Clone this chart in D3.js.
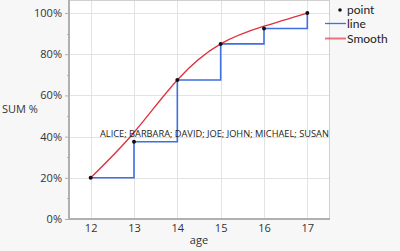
<!DOCTYPE html>
<html>
<head>
<meta charset="utf-8">
<script src="https://cdn.jsdelivr.net/npm/d3@7"></script>
<style>
  html, body { margin: 0; padding: 0; background: #f7f7f7; }
  svg { display: block; font-family: "Open Sans", "Noto Sans", sans-serif; }
</style>
</head>
<body>
<svg id="chart" width="400" height="251"></svg>
<script>
const ages = [12, 13, 14, 15, 16, 17];
const sumPct = [20, 37.5, 67.5, 85, 92.5, 100];
const smoothPct = [20, 42, 67.5, 85, 93.6, 100];
const yTicks = [0, 20, 40, 60, 80, 100];
const yMinorTicks = [10, 30, 50, 70, 90];
const labelText = "ALICE; BARBARA; DAVID; JOE; JOHN; MICHAEL; SUSAN";
const legendItems = ["point", "line", "Smooth"];

const svg = d3.select("#chart");
const plot = { left: 69, right: 329, top: 0, bottom: 219 };

const x = d3.scaleLinear().domain([11.5, 17.5]).range([plot.left, plot.right]);
const y = d3.scaleLinear().domain([0, 100]).range([plot.bottom, 13]);

// plot background
svg.append("rect")
  .attr("x", plot.left).attr("y", plot.top)
  .attr("width", plot.right - plot.left).attr("height", plot.bottom - plot.top)
  .attr("fill", "#ffffff");

// grid
const grid = svg.append("g");
grid.selectAll("line.h").data(yTicks).join("line")
  .attr("x1", plot.left).attr("x2", plot.right)
  .attr("y1", d => Math.round(y(d)) + 0.5).attr("y2", d => Math.round(y(d)) + 0.5)
  .attr("stroke", "#e3e3e3");
grid.selectAll("line.v").data(ages).join("line")
  .attr("y1", plot.top).attr("y2", plot.bottom)
  .attr("x1", d => Math.round(x(d)) + 0.5).attr("x2", d => Math.round(x(d)) + 0.5)
  .attr("stroke", "#e3e3e3");

// frame (right/top)
svg.append("line").attr("x1", plot.right + 0.5).attr("x2", plot.right + 0.5)
  .attr("y1", plot.top).attr("y2", plot.bottom).attr("stroke", "#d0d0d0");
svg.append("line").attr("x1", plot.left).attr("x2", plot.right)
  .attr("y1", 0.5).attr("y2", 0.5).attr("stroke", "#d0d0d0");

// y axis
const yAxis = svg.append("g").attr("transform", `translate(${plot.left},0)`)
  .call(d3.axisLeft(y).tickValues(yTicks).tickFormat(d => d + "%").tickSize(4).tickPadding(3));
yAxis.append("g").selectAll("line").data(yMinorTicks).join("line")
  .attr("x1", -2).attr("x2", 0)
  .attr("y1", d => Math.round(y(d)) + 0.5).attr("y2", d => Math.round(y(d)) + 0.5)
  .attr("stroke", "#b0b0b0");
yAxis.select(".domain").attr("stroke", "#b0b0b0").attr("stroke-width", 2)
  .attr("d", `M0,${plot.top}V${plot.bottom}`);
yAxis.selectAll(".tick line").attr("stroke", "#b0b0b0");
yAxis.selectAll(".tick text").attr("font-size", 11).attr("fill", "#333")
  .attr("font-family", "'Open Sans', sans-serif");

// x axis
const xAxis = svg.append("g").attr("transform", `translate(0,${plot.bottom})`)
  .call(d3.axisBottom(x).tickValues(ages).tickFormat(d3.format("d")).tickSize(0).tickPadding(5));
xAxis.select(".domain").attr("stroke", "#b0b0b0").attr("stroke-width", 2)
  .attr("d", `M${plot.left},0H${plot.right + 1}`);
xAxis.selectAll(".tick text").attr("font-size", 11).attr("fill", "#333")
  .attr("font-family", "'Open Sans', sans-serif");

// axis titles
svg.append("text").attr("x", 2).attr("y", 113).attr("font-size", 11).attr("fill", "#333")
  .text("SUM %");
svg.append("text").attr("x", (plot.left + plot.right) / 2).attr("y", 244)
  .attr("text-anchor", "middle").attr("font-size", 11).attr("fill", "#333").text("age");

const data = ages.map((a, i) => ({ a, p: sumPct[i], s: smoothPct[i] }));

// step line
svg.append("path").datum(data)
  .attr("d", d3.line().x(d => x(d.a)).y(d => y(d.p)).curve(d3.curveStepAfter))
  .attr("fill", "none").attr("stroke", "#3f6fe0").attr("stroke-width", 1.6);

// smooth
svg.append("path").datum(data)
  .attr("d", d3.line().x(d => x(d.a)).y(d => y(d.s)).curve(d3.curveNatural))
  .attr("fill", "none").attr("stroke", "#e0303c").attr("stroke-width", 1.3);

// points
svg.selectAll("circle.pt").data(data).join("circle")
  .attr("cx", d => x(d.a)).attr("cy", d => y(d.p)).attr("r", 2).attr("fill", "#111");

// label
const lbl = svg.append("text").attr("x", 100).attr("y", 137)
  .attr("font-size", 10).attr("fill", "#222").text(labelText);
const w = lbl.node().getComputedTextLength();
lbl.attr("font-size", 10 * 229 / w);

// legend
const lg = svg.append("g");
lg.append("circle").attr("cx", 340).attr("cy", 10).attr("r", 1.8).attr("fill", "#111");
lg.append("line").attr("x1", 325).attr("x2", 346).attr("y1", 23.5).attr("y2", 23.5)
  .attr("stroke", "#3f6fe0").attr("stroke-width", 1.3);
lg.append("line").attr("x1", 325).attr("x2", 346).attr("y1", 38.5).attr("y2", 38.5)
  .attr("stroke", "#e0303c").attr("stroke-opacity", 0.65).attr("stroke-width", 2);
lg.selectAll("text").data(legendItems).join("text")
  .attr("x", 347).attr("y", (d, i) => 13.5 + i * 14.5)
  .attr("font-family", "Lato, sans-serif")
  .attr("font-size", 12).attr("fill", "#222").text(d => d);
</script>
</body>
</html>
